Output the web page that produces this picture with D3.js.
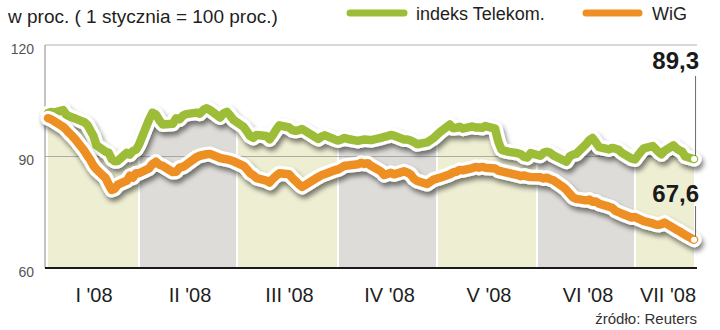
<!DOCTYPE html>
<html>
<head>
<meta charset="utf-8">
<script src="https://cdn.jsdelivr.net/npm/d3@7"></script>
<style>
  body { margin: 0; background: #fff; }
  svg { display: block; }
  text { font-family: "Liberation Sans", Arial, sans-serif; }
</style>
</head>
<body>
<svg id="chart" width="720" height="330"></svg>
<script>
// ---- data -------------------------------------------------------------
const title = "w proc. ( 1 stycznia = 100 proc.)";
const seriesNames = ["indeks Telekom.", "WiG"];
const monthLabels = ["I '08", "II '08", "III '08", "IV '08", "V '08", "VI '08", "VII '08"];
const monthStarts = ["2008-01-01", "2008-02-01", "2008-03-01", "2008-04-01",
                     "2008-05-01", "2008-06-01", "2008-07-01", "2008-07-22"];
const yTicks = [60, 90, 120];
const source = "źródło: Reuters";

const sessions = [
  "2008-01-02","2008-01-03","2008-01-04","2008-01-07","2008-01-08","2008-01-09","2008-01-10","2008-01-11",
  "2008-01-14","2008-01-15","2008-01-16","2008-01-17","2008-01-18","2008-01-21","2008-01-22","2008-01-23",
  "2008-01-24","2008-01-25","2008-01-28","2008-01-29","2008-01-30","2008-01-31",
  "2008-02-01","2008-02-04","2008-02-05","2008-02-06","2008-02-07","2008-02-08","2008-02-11","2008-02-12",
  "2008-02-13","2008-02-14","2008-02-15","2008-02-18","2008-02-19","2008-02-20","2008-02-21","2008-02-22",
  "2008-02-25","2008-02-26","2008-02-27","2008-02-28","2008-02-29",
  "2008-03-03","2008-03-04","2008-03-05","2008-03-06","2008-03-07","2008-03-10","2008-03-11","2008-03-12",
  "2008-03-13","2008-03-14","2008-03-17","2008-03-18","2008-03-19","2008-03-20","2008-03-21","2008-03-25",
  "2008-03-26","2008-03-27","2008-03-28","2008-03-31",
  "2008-04-01","2008-04-02","2008-04-03","2008-04-04","2008-04-07","2008-04-08","2008-04-09","2008-04-10",
  "2008-04-11","2008-04-14","2008-04-15","2008-04-16","2008-04-17","2008-04-18","2008-04-21","2008-04-22",
  "2008-04-23","2008-04-24","2008-04-25","2008-04-28","2008-04-29","2008-04-30",
  "2008-05-02","2008-05-05","2008-05-06","2008-05-07","2008-05-08","2008-05-09","2008-05-12","2008-05-13",
  "2008-05-14","2008-05-15","2008-05-16","2008-05-19","2008-05-20","2008-05-21","2008-05-23","2008-05-26",
  "2008-05-27","2008-05-28","2008-05-29","2008-05-30",
  "2008-06-02","2008-06-03","2008-06-04","2008-06-05","2008-06-06","2008-06-09","2008-06-10","2008-06-11",
  "2008-06-12","2008-06-13","2008-06-16","2008-06-17","2008-06-18","2008-06-19","2008-06-20","2008-06-23",
  "2008-06-24","2008-06-25","2008-06-26","2008-06-27","2008-06-30",
  "2008-07-01","2008-07-02","2008-07-03","2008-07-04","2008-07-07","2008-07-08","2008-07-09","2008-07-10",
  "2008-07-11","2008-07-14","2008-07-15","2008-07-16","2008-07-17","2008-07-18","2008-07-21"
];

const telekom = [
  101.7,102,101.8,102.5,101.3,100.8,100.5,100.2,99.2,98.5,97,95.5,93,91.3,91,89.3,88.7,88.8,91,90.5,91.5,91.8,
  93.2,100,101.8,101.3,99.8,98.6,98.8,100.3,100,101,101.4,101.8,101.5,102.5,103,102.5,100.5,101.6,102,101,99.8,
  98,96.8,95.5,95,95.8,95.5,94.6,95.8,97.2,98.4,97.8,97.1,96.9,97.1,97.4,95.2,94.7,95.4,95.7,94.6,
  94.3,94.6,95,94.7,94.2,94.4,94.6,94.5,94.4,95,95.3,95.5,95.8,95.6,94.6,94.6,94.3,93.9,93.3,93.8,94.4,95,
  96.6,98.6,97.6,97.7,98,97.5,98.1,97.8,97.8,97.7,98.2,97.5,94,91.8,91.3,90.9,90.6,89.9,89.7,90.9,
  90.2,91,91.3,91,90.3,89,88.6,90,90.5,90.7,93.3,94.4,95,93.8,92.5,91.9,92.3,92.1,91.8,91,89.4,
  89.2,90.3,91.3,92.2,92.8,92,91.2,90.6,91.5,93,92.2,91.7,91.3,90,89.3
];

const wig = [
  100.3,100,99.5,98,97.2,96.3,95.5,94.6,91.5,90.2,89,87.5,86.5,84.2,82.5,81,81.3,82.4,83.5,84.8,84.3,85.5,
  85.5,86.8,88,88.6,87.8,87.5,85.8,85.9,87,87.2,87.8,89.8,90.2,90.4,90.6,90.7,89.6,89.4,89.2,89,88.7,
  87.5,86.6,85.5,85,84.2,83.5,83,84,84.8,85.5,85.2,84.2,83.4,82.5,81.8,84,84.5,85,85.3,86.3,
  86.5,87,87.5,87.6,87.9,88.3,88,88.2,87.5,86,85,85.3,85.6,85.2,86,85.7,85.2,84,83.4,82.6,83.2,83.8,
  84.3,85.2,85.7,85.9,86.4,86.3,86.9,87.2,87,87.2,87,86.8,86.2,86,85.6,85,84.7,84.9,84.6,84.5,
  84.4,84.1,84.3,83.9,83.6,81.8,81,80,79,78.6,78.2,78.4,77.8,77.9,77.3,76.5,76.2,75.4,75,74.6,73.6,
  73.7,73.3,73,72.6,72,71.7,71.6,71.8,72.2,70.8,70.3,69.9,69.4,68.9,67.6
];

// ---- setup ------------------------------------------------------------
const parse = d3.timeParse("%Y-%m-%d");
const colors = { telekom: "#9dbd38", wig: "#ee8f24" };
const bandFill = ["#eeeed3", "#dddcd8"];
const plPL = d3.formatLocale({ decimal: ",", thousands: " ", grouping: [3], currency: ["", " zł"] });
const fmt = plPL.format(".1f");

const rows = sessions.map((s, i) => ({ date: parse(s), tk: telekom[i], wig: wig[i] }));
const edges = monthStarts.map(parse);

const plotLeft = 45, plotRight = 697, plotTop = 45, plotBottom = 268;
// month columns are not all the same width on the page
const x = d3.scaleTime().domain(edges).range([45, 139, 237, 338, 437, 537, 635, 697]);
const y = d3.scaleLinear().domain([60, 120]).range([plotBottom, plotTop]);

const svg = d3.select("#chart");
const defs = svg.append("defs");

const shadow = defs.append("filter").attr("id", "shadow")
  .attr("filterUnits", "userSpaceOnUse").attr("x", 0).attr("y", 0).attr("width", 720).attr("height", 330);
shadow.append("feGaussianBlur").attr("in", "SourceAlpha").attr("stdDeviation", 2.4);
shadow.append("feOffset").attr("dx", 2).attr("dy", 3.5).attr("result", "off");
shadow.append("feComponentTransfer").append("feFuncA").attr("type", "linear").attr("slope", 0.5);
const merge = shadow.append("feMerge");
merge.append("feMergeNode");
merge.append("feMergeNode").attr("in", "SourceGraphic");

// ---- month bands: tinted area beneath the Telekom line ----------------
const area = d3.area().x(d => x(d.date)).y0(y(60)).y1(d => y(d.tk));
monthLabels.forEach((m, i) => {
  const x0 = x(edges[i]) + (i === 0 ? 2 : 1);
  const x1 = x(edges[i + 1]) - 1;
  defs.append("clipPath").attr("id", "band" + i)
    .append("rect").attr("x", x0).attr("y", plotTop).attr("width", x1 - x0).attr("height", plotBottom - plotTop);
  svg.append("path").datum(rows)
    .attr("d", area)
    .attr("clip-path", `url(#band${i})`)
    .attr("fill", bandFill[i % 2]);
});

// ---- grid and frame ---------------------------------------------------
svg.append("line").attr("x1", plotLeft).attr("x2", plotRight).attr("y1", y(120)).attr("y2", y(120))
  .attr("stroke", "#b4b4b4").attr("stroke-width", 1.2);
svg.append("line").attr("x1", plotLeft).attr("x2", plotRight).attr("y1", y(90)).attr("y2", y(90))
  .attr("stroke", "#9a9a96").attr("stroke-width", 0.8);
svg.append("line").attr("x1", plotLeft).attr("x2", plotLeft).attr("y1", y(120)).attr("y2", y(60))
  .attr("stroke", "#8a8a8a").attr("stroke-width", 1);

// ---- series lines -----------------------------------------------------
const lineTk = d3.line().x(d => x(d.date)).y(d => y(d.tk));
const lineWig = d3.line().x(d => x(d.date)).y(d => y(d.wig));

[[lineTk, colors.telekom], [lineWig, colors.wig]].forEach(([gen, col]) => {
  const g = svg.append("g");
  g.append("path").datum(rows).attr("d", gen)
    .attr("fill", "none").attr("stroke", "#fff").attr("stroke-width", 15)
    .attr("stroke-linejoin", "round").attr("stroke-linecap", "round")
    .attr("filter", "url(#shadow)");
  g.append("path").datum(rows).attr("d", gen)
    .attr("fill", "none").attr("stroke", col).attr("stroke-width", 8.5)
    .attr("stroke-linejoin", "round").attr("stroke-linecap", "round");
});

// bottom axis line
svg.append("line").attr("x1", plotLeft).attr("x2", plotRight).attr("y1", plotBottom).attr("y2", plotBottom)
  .attr("stroke", "#1a1a1a").attr("stroke-width", 2);

// ---- end values -------------------------------------------------------
const last = rows[rows.length - 1];
const ends = [
  { v: last.tk, labelY: 69, lineTop: 76 },
  { v: last.wig, labelY: 202, lineTop: 206 }
];
ends.forEach(e => {
  const ex = x(last.date), ey = y(e.v);
  svg.append("line").attr("x1", ex + 1.5).attr("x2", ex + 1.5).attr("y1", e.lineTop).attr("y2", ey - 3)
    .attr("stroke", "#6a6a6a").attr("stroke-width", 1);
  svg.append("circle").attr("cx", ex).attr("cy", ey).attr("r", 3).attr("fill", "#fff");
  svg.append("text").attr("x", 699).attr("y", e.labelY)
    .attr("text-anchor", "end").attr("font-size", 24).attr("font-weight", "bold")
    .attr("fill", "#1a1a1a").text(fmt(e.v));
});

// ---- axis labels ------------------------------------------------------
svg.append("g").selectAll("text").data(yTicks).join("text")
  .attr("x", 34).attr("y", d => y(d) + 8.5)
  .attr("text-anchor", "end").attr("font-size", 14).attr("fill", "#555")
  .text(d => d);

svg.append("g").selectAll("text").data(monthLabels).join("text")
  .attr("x", (d, i) => (x(edges[i]) + x(edges[i + 1])) / 2 + 2)
  .attr("y", 302)
  .attr("text-anchor", "middle").attr("font-size", 20).attr("fill", "#1e1e1e")
  .text(d => d);

svg.append("text").attr("x", 697).attr("y", 324).attr("text-anchor", "end")
  .attr("font-size", 15).attr("fill", "#333").text(source);

// ---- title and legend -------------------------------------------------
svg.append("text").attr("x", 8).attr("y", 23).attr("font-size", 19).attr("fill", "#1e1e1e").text(title);

const legend = [
  { name: seriesNames[0], col: colors.telekom, x0: 350, x1: 404, tx: 416 },
  { name: seriesNames[1], col: colors.wig, x0: 586, x1: 639, tx: 652 }
];
legend.forEach(l => {
  svg.append("line").attr("x1", l.x0).attr("x2", l.x1).attr("y1", 13).attr("y2", 13)
    .attr("stroke", l.col).attr("stroke-width", 7).attr("stroke-linecap", "round");
  svg.append("text").attr("x", l.tx).attr("y", 20).attr("font-size", 18).attr("fill", "#1e1e1e").text(l.name);
});
</script>
</body>
</html>
